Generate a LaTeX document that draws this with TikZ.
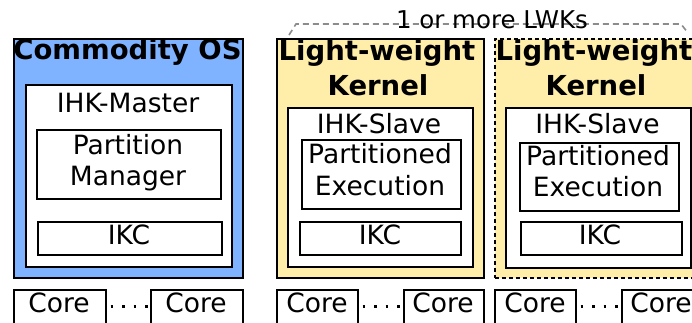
\documentclass[tikz,border=0pt]{standalone}
\usepackage{fontspec}
\setmainfont{DejaVu Sans}
\usetikzlibrary{positioning}
\definecolor{osblue}{HTML}{80B3FF}
\definecolor{lwkyellow}{HTML}{FFEEAA}
\tikzset{
	box/.style={draw=black, line width=1.6pt, rectangle, inner sep=0pt, anchor=north west, fill=white},
	txt/.style={anchor=base, inner sep=0pt, font=\fontsize{26.5}{30}\selectfont},
	heading/.style={anchor=base, inner sep=0pt, font=\fontsize{27.5}{32}\selectfont\bfseries}
}
\begin{document}
\begin{tikzpicture}[x=1pt, y=-1pt, coredots/.style={line width=2.5pt, dash pattern=on 2.5pt off 9pt, dash phase=-4pt}]

	\useasboundingbox (0,0) rectangle (692,322);

	% --- commodity os ---
	\node[box, fill=osblue, minimum width=229, minimum height=239] (os) at (13,38) {};
	\node[heading] (ostitle) at (127.5,59) {Commodity OS};
	\node[box, minimum width=206, minimum height=182] (master) at (25,84) {};
	\node[txt] (mastertxt) at (128,112) {IHK-Master};
	\node[box, minimum width=184, minimum height=69] (pm) at (36,129) {};
	\node[txt] (pmA) at (128,154) {Partition};
	\node[txt] (pmB) at (128,185) {Manager};
	\node[box, minimum width=184, minimum height=33] (osikc) at (37,221) {};
	\node[txt] (osikctxt) at (129,244) {IKC};

	\node[box, minimum width=92, minimum height=45] (osA) at (13,289) {};
	\node[txt] at (59,312) {Core};
	\node[box, minimum width=92, minimum height=45] (osB) at (150,289) {};
	\node[txt] at (196,312) {Core};

	% --- first lwk ---
	\node[box, fill=lwkyellow, minimum width=207, minimum height=239] (lwkA) at (276,38) {};
	\node[heading] (lwkAtitleA) at (377,60) {Light-weight};
	\node[heading] (lwkAtitleB) at (378,95) {Kernel};
	\node[box, minimum width=185, minimum height=159] (slaveA) at (287,107) {};
	\node[txt] (slaveAtxt) at (379,133) {IHK-Slave};
	\node[box, minimum width=159, minimum height=69] (peA) at (301,139) {};
	\node[txt] (peAtxtA) at (380,163) {Partitioned};
	\node[txt] (peAtxtB) at (380,195) {Execution};
	\node[box, minimum width=161, minimum height=33] (ikcA) at (299,221) {};
	\node[txt] (ikcAtxt) at (380,244) {IKC};

	\node[box, minimum width=81, minimum height=45] (lwkAcoreA) at (276,289) {};
	\node[txt] at (317,312) {Core};
	\node[box, minimum width=80, minimum height=45] (lwkAcoreB) at (403,289) {};
	\node[txt] at (443,312) {Core};

	% --- second lwk ---
	\node[box, fill=lwkyellow, dash pattern=on 4pt off 3pt, minimum width=207, minimum height=239] (lwkB) at (494,38) {};
	\node[heading] (lwkBtitleA) at (594,60) {Light-weight};
	\node[heading] (lwkBtitleB) at (596,95) {Kernel};
	\node[box, minimum width=185, minimum height=160] (slaveB) at (505,107) {};
	\node[txt] (slaveBtxt) at (597.5,133) {IHK-Slave};
	\node[box, minimum width=159, minimum height=68] (peB) at (519,142) {};
	\node[txt] (peBtxtA) at (598,165) {Partitioned};
	\node[txt] (peBtxtB) at (598,196) {Execution};
	\node[box, minimum width=161, minimum height=33] (ikcB) at (520,221) {};
	\node[txt] (ikcBtxt) at (600,244) {IKC};

	\node[box, minimum width=81, minimum height=45] (lwkBcoreA) at (494,289) {};
	\node[txt] at (535,312) {Core};
	\node[box, minimum width=80, minimum height=45] (lwkBcoreB) at (621,289) {};
	\node[txt] at (661,312) {Core};

	% dots between cores
	\draw[coredots] ([yshift=6pt]osA.east) -- ([yshift=6pt]osB.west);
	\draw[coredots] ([yshift=6pt]lwkAcoreA.east) -- ([yshift=6pt]lwkAcoreB.west);
	\draw[coredots] ([yshift=6pt]lwkBcoreA.east) -- ([yshift=6pt]lwkBcoreB.west);

	% 1 or more
	\coordinate (brA) at (289,35);
	\coordinate (brB) at (688,33);
	\draw[black!45, line width=1.6pt, dash pattern=on 6pt off 4pt] (brA) -- (296,24) -- (681,24) -- (brB);
	\node[anchor=base, inner sep=0pt, font=\fontsize{24.5}{28}\selectfont] (more) at (492,28) {1 or more LWKs};

\end{tikzpicture}
\end{document}
